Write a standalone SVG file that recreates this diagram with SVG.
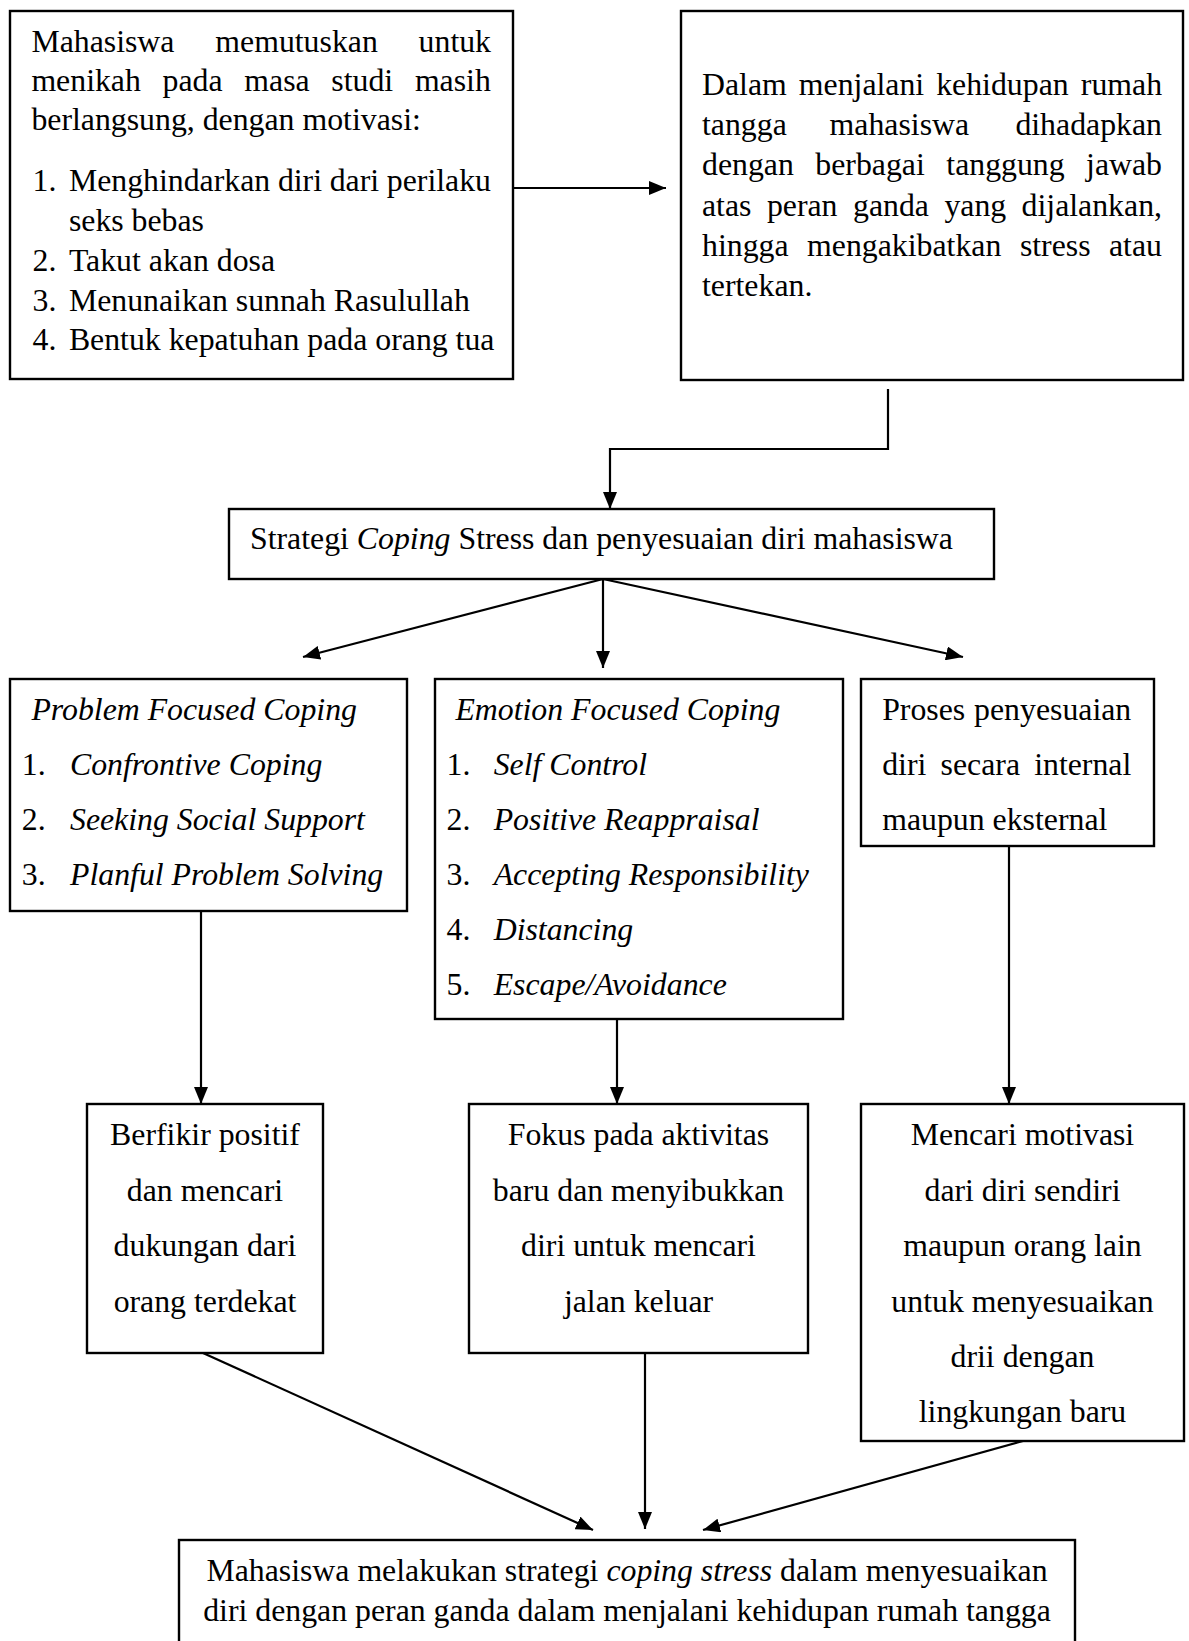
<svg xmlns="http://www.w3.org/2000/svg" width="1189" height="1641" viewBox="0 0 1189 1641">
<style>
  .box { fill: #ffffff; stroke: #000000; stroke-width: 2.4; }
  .t { font-family: "Liberation Serif", "Times New Roman", serif; font-size: 31.8px; fill: #000000; }
  .i { font-style: italic; }
  .c { text-anchor: middle; }
  .ln { fill: none; stroke: #000000; stroke-width: 2.2; }
</style>
<defs>
  <marker id="ah" markerUnits="userSpaceOnUse" markerWidth="18" markerHeight="14" refX="17" refY="7" orient="auto">
    <path d="M0,0 L17,7 L0,14 Z" fill="#000000"/>
  </marker>
</defs>
<rect width="1189" height="1641" fill="#ffffff"/>

<g id="connectors">
  <path class="ln" d="M513,188 H666" marker-end="url(#ah)"/>
  <path class="ln" d="M888,389 V449 H610 V509" marker-end="url(#ah)"/>
  <path class="ln" d="M603,579 L303,657" marker-end="url(#ah)"/>
  <path class="ln" d="M603,579 V668" marker-end="url(#ah)"/>
  <path class="ln" d="M603,579 L963,657" marker-end="url(#ah)"/>
  <path class="ln" d="M201,911 V1104" marker-end="url(#ah)"/>
  <path class="ln" d="M617,1019 V1104" marker-end="url(#ah)"/>
  <path class="ln" d="M1009,846 V1104" marker-end="url(#ah)"/>
  <path class="ln" d="M203,1353 L593,1530" marker-end="url(#ah)"/>
  <path class="ln" d="M645,1353 V1529" marker-end="url(#ah)"/>
  <path class="ln" d="M1023,1441 L703,1530" marker-end="url(#ah)"/>
</g>

<g id="node-motivasi">
  <rect class="box" x="10" y="11" width="503" height="368"/>
  <text class="t" y="52"><tspan x="31.4">Mahasiswa</tspan><tspan x="215.3">memutuskan</tspan><tspan x="418.6">untuk</tspan></text>
  <text class="t" y="91"><tspan x="31.4">menikah</tspan><tspan x="162.6">pada</tspan><tspan x="244.3">masa</tspan><tspan x="331.3">studi</tspan><tspan x="414.9">masih</tspan></text>
  <text class="t" x="31.4" y="130">berlangsung, dengan motivasi:</text>
  <text class="t" x="32.5" y="190.5">1.</text>
  <text class="t" y="190.5"><tspan x="68.9">Menghindarkan</tspan><tspan x="277.9">diri</tspan><tspan x="329.7">dari</tspan><tspan x="386.8">perilaku</tspan></text>
  <text class="t" x="68.9" y="230.5">seks bebas</text>
  <text class="t" x="32.5" y="270.5">2.</text>
  <text class="t" x="68.9" y="270.5">Takut akan dosa</text>
  <text class="t" x="32.5" y="310.5">3.</text>
  <text class="t" x="68.9" y="310.5">Menunaikan sunnah Rasulullah</text>
  <text class="t" x="32.5" y="350">4.</text>
  <text class="t" x="68.9" y="350">Bentuk kepatuhan pada orang tua</text>
</g>

<g id="node-tanggung-jawab">
  <rect class="box" x="681" y="11" width="502" height="369"/>
  <text class="t" y="95"><tspan x="702">Dalam</tspan><tspan x="798.8">menjalani</tspan><tspan x="936.2">kehidupan</tspan><tspan x="1080.8">rumah</tspan></text>
  <text class="t" y="135.2"><tspan x="702">tangga</tspan><tspan x="829.6">mahasiswa</tspan><tspan x="1015.4">dihadapkan</tspan></text>
  <text class="t" y="175.4"><tspan x="702">dengan</tspan><tspan x="815.3">berbagai</tspan><tspan x="946.3">tanggung</tspan><tspan x="1086.1">jawab</tspan></text>
  <text class="t" y="215.6"><tspan x="702">atas</tspan><tspan x="766.9">peran</tspan><tspan x="853">ganda</tspan><tspan x="944.4">yang</tspan><tspan x="1021.6">dijalankan,</tspan></text>
  <text class="t" y="255.8"><tspan x="702">hingga</tspan><tspan x="807.1">mengakibatkan</tspan><tspan x="1019.9">stress</tspan><tspan x="1109">atau</tspan></text>
  <text class="t" x="702" y="296">tertekan.</text>
</g>

<g id="node-strategi">
  <rect class="box" x="229" y="509" width="765" height="70"/>
  <text class="t" x="250" y="549">Strategi <tspan class="i">Coping</tspan> Stress dan penyesuaian diri mahasiswa</text>
</g>

<g id="node-problem-focused">
  <rect class="box" x="10" y="679" width="397" height="232"/>
  <text class="t i" x="31.4" y="720">Problem Focused Coping</text>
  <text class="t" x="21.8" y="775">1.</text>
  <text class="t i" x="70" y="775">Confrontive Coping</text>
  <text class="t" x="21.8" y="830">2.</text>
  <text class="t i" x="70" y="830">Seeking Social Support</text>
  <text class="t" x="21.8" y="885">3.</text>
  <text class="t i" x="70" y="885">Planful Problem Solving</text>
</g>

<g id="node-emotion-focused">
  <rect class="box" x="435" y="679" width="408" height="340"/>
  <text class="t i" x="455.4" y="720">Emotion Focused Coping</text>
  <text class="t" x="446.6" y="775">1.</text>
  <text class="t i" x="493.7" y="775">Self Control</text>
  <text class="t" x="446.6" y="830">2.</text>
  <text class="t i" x="493.7" y="830">Positive Reappraisal</text>
  <text class="t" x="446.6" y="885">3.</text>
  <text class="t i" x="493.7" y="885">Accepting Responsibility</text>
  <text class="t" x="446.6" y="940">4.</text>
  <text class="t i" x="493.7" y="940">Distancing</text>
  <text class="t" x="446.6" y="995">5.</text>
  <text class="t i" x="493.7" y="995">Escape/Avoidance</text>
</g>

<g id="node-proses">
  <rect class="box" x="861" y="679" width="293" height="167"/>
  <text class="t" y="720"><tspan x="882.2">Proses</tspan><tspan x="974.1">penyesuaian</tspan></text>
  <text class="t" y="775"><tspan x="882.2">diri</tspan><tspan x="940.6">secara</tspan><tspan x="1034.2">internal</tspan></text>
  <text class="t" x="882.2" y="830">maupun eksternal</text>
</g>

<g id="node-berfikir">
  <rect class="box" x="87" y="1104" width="236" height="249"/>
  <text class="t c" x="205" y="1145">Berfikir positif</text>
  <text class="t c" x="205" y="1200.5">dan mencari</text>
  <text class="t c" x="205" y="1256">dukungan dari</text>
  <text class="t c" x="205" y="1311.5">orang terdekat</text>
</g>

<g id="node-fokus">
  <rect class="box" x="469" y="1104" width="339" height="249"/>
  <text class="t c" x="638.5" y="1145">Fokus pada aktivitas</text>
  <text class="t c" x="638.5" y="1200.5">baru dan menyibukkan</text>
  <text class="t c" x="638.5" y="1256">diri untuk mencari</text>
  <text class="t c" x="638.5" y="1311.5">jalan keluar</text>
</g>

<g id="node-mencari">
  <rect class="box" x="861" y="1104" width="323" height="337"/>
  <text class="t c" x="1022.5" y="1145">Mencari motivasi</text>
  <text class="t c" x="1022.5" y="1200.5">dari diri sendiri</text>
  <text class="t c" x="1022.5" y="1256">maupun orang lain</text>
  <text class="t c" x="1022.5" y="1311.5">untuk menyesuaikan</text>
  <text class="t c" x="1022.5" y="1367">drii dengan</text>
  <text class="t c" x="1022.5" y="1422">lingkungan baru</text>
</g>

<g id="node-hasil">
  <rect class="box" x="179" y="1540" width="896" height="120"/>
  <text class="t c" x="627" y="1581">Mahasiswa melakukan strategi <tspan class="i">coping stress</tspan> dalam menyesuaikan</text>
  <text class="t c" x="627" y="1621">diri dengan peran ganda dalam menjalani kehidupan rumah tangga</text>
</g>
</svg>
